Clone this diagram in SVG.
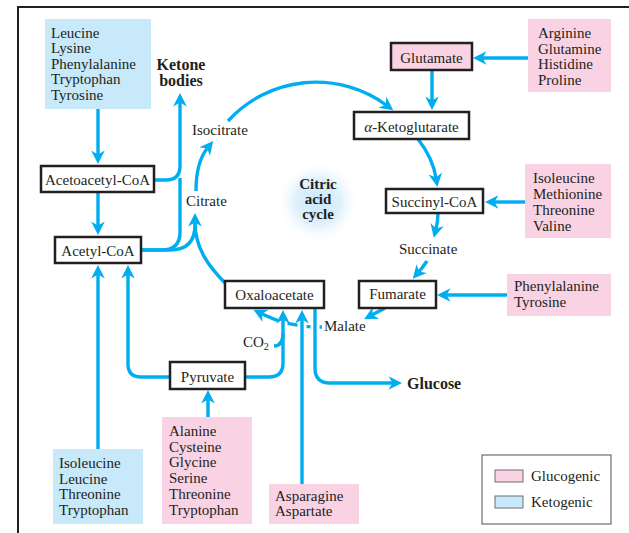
<svg xmlns="http://www.w3.org/2000/svg" width="629" height="533" viewBox="0 0 629 533">
  <defs>
    <style>
      .t { font-family: "Liberation Serif", "Times New Roman", serif; font-size: 15px; fill: #231f20; }
      .b { font-family: "Liberation Serif", "Times New Roman", serif; font-size: 16px; font-weight: bold; fill: #231f20; }
      .bc { font-family: "Liberation Serif", "Times New Roman", serif; font-size: 15px; font-weight: bold; fill: #231f20; }
      .m { text-anchor: middle; }
      .box { fill: #ffffff; stroke: #231f20; stroke-width: 2.5; }
      .gbox { fill: #f9d3e4; stroke: #231f20; stroke-width: 2.5; }
      .pink { fill: #f9d3e4; }
      .blue { fill: #c8e9f9; }
      .c { fill: none; stroke: #00aeef; stroke-width: 3.4; }
      .cm { fill: none; stroke: #00aeef; stroke-width: 3.4; marker-end: url(#ah); }
      .case { fill: none; stroke: #ffffff; stroke-width: 9; }
    </style>
    <marker id="ah" markerUnits="userSpaceOnUse" viewBox="-6 -8 16 16" markerWidth="16" markerHeight="16" refX="0" refY="0" orient="auto">
      <path d="M9,0 L-4.5,-6.8 L-0.5,0 L-4.5,6.8 Z" fill="#00aeef"/>
    </marker>
    <radialGradient id="glow" cx="318" cy="202" r="42" gradientUnits="userSpaceOnUse">
      <stop offset="0" stop-color="#c9e8fa"/>
      <stop offset="0.55" stop-color="#dff1fc"/>
      <stop offset="1" stop-color="#ffffff" stop-opacity="0"/>
    </radialGradient>
  </defs>

  <rect width="629" height="533" fill="#ffffff"/>

  <!-- page frame (top and left rules) -->
  <path d="M18,534 V7 H630" fill="none" stroke="#231f20" stroke-width="2"/>

  <!-- cycle centre -->
  <g id="cycle-label">
    <circle cx="318" cy="202" r="42" fill="url(#glow)"/>
    <text class="bc m" x="318" y="189">Citric</text>
    <text class="bc m" x="318" y="204">acid</text>
    <text class="bc m" x="318" y="219">cycle</text>
  </g>

  <!-- connectors -->
  <g id="connectors">
    <!-- malate to oxaloacetate, passing behind the vertical feeds -->
    <path class="cm" d="M322,327 A127,127 0 0 1 261.5,313.8"/>
    <path class="case" d="M283,314 V334 M302,314 V336 M315,314 V336"/>

    <path class="cm" d="M98,109 V155"/>
    <path class="cm" d="M98,192 V226"/>
    <path class="cm" d="M154,180 H166 Q180,180 180,166 V102"/>
    <path class="c" d="M141,250 H162 Q180,250 180,232 V178"/>
    <path class="c" d="M141,250 H170 Q195,250 195,225 V222"/>
    <path class="cm" d="M227,285 C208,266 195,248 195,222"/>
    <path class="cm" d="M196,191 C196,170 201,156 207.5,148"/>
    <path class="cm" d="M228,121 A119,119 0 0 1 386,105"/>
    <path class="cm" d="M432,70 V101"/>
    <path class="cm" d="M528,58 H482"/>
    <path class="cm" d="M418,139 C428,152 434,165 436,178"/>
    <path class="cm" d="M525,202 H494"/>
    <path class="cm" d="M438,213 C438,220 437,225 436,229"/>
    <path class="cm" d="M427,261 Q423,267 418.7,272"/>
    <path class="cm" d="M507,295 H446"/>
    <path class="cm" d="M385,308 L372,315"/>
    <path class="cm" d="M315,308 V368 Q315,383 330,383 H393"/>
    <path class="cm" d="M245,377 H269 Q283,377 283,363 V319"/>
    <path class="c" d="M283,333 C283,342 280,346 274,346"/>
    <path class="cm" d="M170,377 H141 Q128,377 128,364 V274"/>
    <path class="cm" d="M302,484 V319"/>
    <path class="cm" d="M98,449 V274"/>
    <path class="cm" d="M208,417 V399"/>
  </g>

  <g id="ketogenic-top">
    <rect class="blue" x="45" y="19" width="106" height="90"/>
    <text class="t" x="51" y="37.5">Leucine</text>
    <text class="t" x="51" y="53">Lysine</text>
    <text class="t" x="51" y="68.5">Phenylalanine</text>
    <text class="t" x="51" y="84">Tryptophan</text>
    <text class="t" x="51" y="99.5">Tyrosine</text>
  </g>

  <g id="ketone-bodies">
    <text class="b m" x="181" y="70">Ketone</text>
    <text class="b m" x="181" y="86">bodies</text>
  </g>

  <g id="acetoacetyl-coa">
    <rect class="box" x="41" y="166" width="113" height="26"/>
    <text class="t m" x="97.5" y="185">Acetoacetyl-CoA</text>
  </g>

  <g id="acetyl-coa">
    <rect class="box" x="55" y="237" width="86" height="26"/>
    <text class="t m" x="98" y="256">Acetyl-CoA</text>
  </g>

  <g id="isocitrate">
    <text class="t" x="192" y="135">Isocitrate</text>
  </g>

  <g id="citrate">
    <text class="t" x="186" y="206">Citrate</text>
  </g>

  <g id="glutamate">
    <rect class="gbox" x="391" y="43" width="81" height="27"/>
    <text class="t m" x="431.5" y="63">Glutamate</text>
  </g>

  <g id="glucogenic-glutamate">
    <rect class="pink" x="528" y="19" width="83" height="73"/>
    <text class="t" x="538" y="38">Arginine</text>
    <text class="t" x="538" y="53.5">Glutamine</text>
    <text class="t" x="538" y="69">Histidine</text>
    <text class="t" x="538" y="84.5">Proline</text>
  </g>

  <g id="alpha-ketoglutarate">
    <rect class="box" x="354" y="112" width="115" height="27"/>
    <text class="t m" x="411.5" y="131.5"><tspan font-style="italic">α</tspan>-Ketoglutarate</text>
  </g>

  <g id="glucogenic-succinyl">
    <rect class="pink" x="525" y="164" width="86" height="74"/>
    <text class="t" x="533" y="183">Isoleucine</text>
    <text class="t" x="533" y="199">Methionine</text>
    <text class="t" x="533" y="215">Threonine</text>
    <text class="t" x="533" y="230.5">Valine</text>
  </g>

  <g id="succinyl-coa">
    <rect class="box" x="386" y="189" width="97" height="24"/>
    <text class="t m" x="434.5" y="206.5">Succinyl-CoA</text>
  </g>

  <g id="succinate">
    <text class="t" x="399" y="254">Succinate</text>
  </g>

  <g id="fumarate">
    <rect class="box" x="359" y="281" width="77" height="27"/>
    <text class="t m" x="397.5" y="299">Fumarate</text>
  </g>

  <g id="glucogenic-fumarate">
    <rect class="pink" x="507" y="274" width="104" height="42"/>
    <text class="t" x="514" y="291">Phenylalanine</text>
    <text class="t" x="514" y="307">Tyrosine</text>
  </g>

  <g id="malate">
    <text class="t" x="324" y="330.5">Malate</text>
  </g>

  <g id="oxaloacetate">
    <rect class="box" x="225" y="281" width="99" height="27"/>
    <text class="t m" x="274.5" y="300">Oxaloacetate</text>
  </g>

  <g id="co2">
    <text class="t" x="243" y="347">CO<tspan font-size="10" dy="3">2</tspan></text>
  </g>

  <g id="glucose">
    <text class="b" x="407" y="389">Glucose</text>
  </g>

  <g id="pyruvate">
    <rect class="box" x="170" y="362" width="75" height="27"/>
    <text class="t m" x="207.5" y="381.5">Pyruvate</text>
  </g>

  <g id="ketogenic-bottom">
    <rect class="blue" x="53" y="449" width="90" height="75"/>
    <text class="t" x="59" y="467.5">Isoleucine</text>
    <text class="t" x="59" y="483.5">Leucine</text>
    <text class="t" x="59" y="499">Threonine</text>
    <text class="t" x="59" y="515">Tryptophan</text>
  </g>

  <g id="glucogenic-pyruvate">
    <rect class="pink" x="162" y="417" width="90" height="107"/>
    <text class="t" x="169" y="435.5">Alanine</text>
    <text class="t" x="169" y="451.5">Cysteine</text>
    <text class="t" x="169" y="467">Glycine</text>
    <text class="t" x="169" y="483">Serine</text>
    <text class="t" x="169" y="499">Threonine</text>
    <text class="t" x="169" y="514.5">Tryptophan</text>
  </g>

  <g id="glucogenic-oxaloacetate">
    <rect class="pink" x="269" y="484" width="90" height="40"/>
    <text class="t" x="275" y="500.5">Asparagine</text>
    <text class="t" x="275" y="516">Aspartate</text>
  </g>

  <g id="legend">
    <rect x="482" y="455" width="129" height="69" fill="#ffffff" stroke="#6d6e70" stroke-width="1.2"/>
    <rect class="pink" x="495" y="470" width="28" height="12" stroke="#6d6e70" stroke-width="1"/>
    <rect class="blue" x="495" y="496" width="28" height="12" stroke="#6d6e70" stroke-width="1"/>
    <text class="t" x="531" y="481">Glucogenic</text>
    <text class="t" x="531" y="507">Ketogenic</text>
  </g>
</svg>
